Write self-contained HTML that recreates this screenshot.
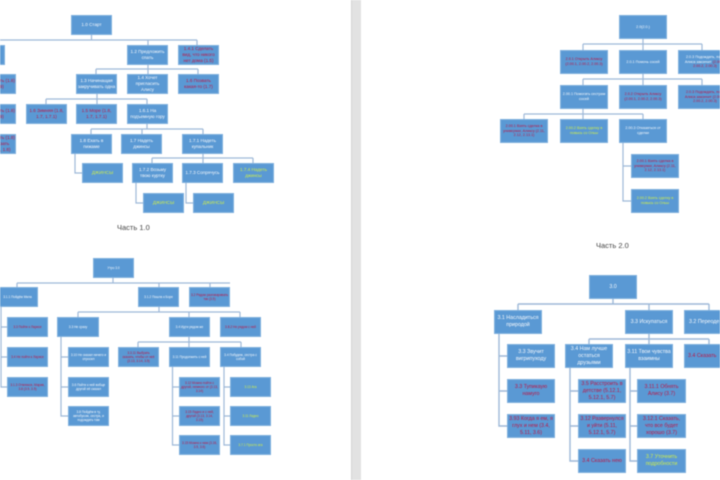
<!DOCTYPE html>
<html lang="ru"><head><meta charset="utf-8"><title>Диаграмма</title>
<style>
html,body{margin:0;padding:0;background:#fff;width:720px;height:480px;overflow:hidden}
#w{position:relative;width:720px;height:480px;overflow:hidden;filter:blur(.45px);font-family:"Liberation Sans","Noto Sans CJK JP",sans-serif}
svg{position:absolute;left:0;top:0}
.b{position:absolute;box-sizing:border-box;background:#5a99d4;border:1px solid #7fb0de;color:#f6f9fd;display:flex;align-items:center;justify-content:center;text-align:center;overflow:hidden;line-height:1.25;white-space:nowrap}
.p1{font-size:4.6px;width:41px;height:20px}
.p2{font-size:3.7px;width:48px;height:24px}
.p3{font-size:3.2px;width:41px;height:20px}
.p4{font-size:5.3px;width:48px;height:24px;line-height:7px}
.r{color:#bd1544}
.y{color:#cfee4a}
.c{position:absolute;font-size:7.5px;color:#444;white-space:nowrap}
#d{position:absolute;left:351px;top:0;width:10px;height:480px;background:#e2e2e2;border-left:1px solid #d4d4d4;box-sizing:border-box}
</style></head><body><div id="w">
<div id="d"></div>
<svg width="720" height="480" fill="none" stroke="#9db8d8" stroke-width="1.2">
<path d="M91.5 35V40M0 40H197M148 40V45M197 40V45M148 64V69M96 69H198M96 69V74M148 69V74M198 69V74M97 94V99M46 99H147M46 99V104M97 99V104M147 99V104M147 124V129M91 129H203M91 129V134M142 129V134M203 129V134M75 153V173H82M203 153V158M152 158H253M152 158V163M203 158V163M253 158V163M136 183V203H143M186 183V203H193"/>
<path d="M643 39V44M583 44H702M583 44V50M643 44V50M702 44V50M643 74V79M583 79H702M583 79V85M643 79V85M702 79V85M583 108V114M524 114H643M524 114V119M583 114V119M643 114V119M623 143V201H631M623 166H631"/>
<path d="M113 278V283M17 283H230M17 283V287M159 283V287M210 283V287M159 307V312M78 312H240M78 312V317M189 312V317M240 312V317M189 337V342M138 342H241M138 342V347M189 342V347M241 342V347M61 337V416H68M61 357H68M61 387H68M1 307V387H7M1 327H7M1 357H7M172.5 367V445H179M172.5 387H179M172.5 416H179M224 367V445H230M224 387H230M224 416H230"/>
<path d="M613 299V304M518 304H709M518 304V310M649 304V310M709 304V310M649 334V339M589 339H709M589 339V344M649 339V344M709 339V344M499 334V426H507M499 356H507M499 391H507M570 368V461H578M570 391H578M570 426H578M630 368V461H637M630 391H637M630 426H637" stroke-width="1.4"/>
</svg>

<div class="b p1" style="left:71px;top:15px">1.0 Старт</div>
<div class="b p1" style="left:-36px;top:45px"></div>
<div class="b p1" style="left:127px;top:45px">1.2 Предложить<br>спать</div>
<div class="b p1 r" style="left:178px;top:45px">1.4.1 Сделать<br>вид, что никого<br>нет дома (1.5)</div>
<div class="b p1 r" style="left:-25px;top:74px;justify-content:flex-end">сказать (1.8)<br>(1.9)&nbsp;&nbsp;&nbsp;&nbsp;</div>
<div class="b p1" style="left:76px;top:74px">1.3 Начинащая<br>закручивать одна</div>
<div class="b p1" style="left:127px;top:74px">1.4 Хочет<br>пригласить<br>Алису</div>
<div class="b p1 r" style="left:178px;top:74px">1.6 Позвать<br>какая-то (1.7)</div>
<div class="b p1 r" style="left:-25px;top:104px;justify-content:flex-end">сказать (1.8)<br>(1.9)&nbsp;&nbsp;&nbsp;&nbsp;</div>
<div class="b p1 r" style="left:26px;top:104px">1.6 Зимняя (1.8,<br>1.7, 1.7.1)</div>
<div class="b p1 r" style="left:76px;top:104px">1.5 Море (1.8,<br>1.7, 1.7.1)</div>
<div class="b p1" style="left:127px;top:104px">1.6.1 На<br>подъемную гору</div>
<div class="b p1 r" style="left:-25px;top:134px;justify-content:flex-end">заявить (1.8)<br>сказать<br>(1.7, 1.8)</div>
<div class="b p1" style="left:71px;top:134px">1.8 Ехать в<br>пижаме</div>
<div class="b p1" style="left:121px;top:134px">1.7 Надеть<br>джинсы</div>
<div class="b p1" style="left:182px;top:134px">1.7.1 Надеть<br>купальник</div>
<div class="b p1 y" style="left:82px;top:163px">ДЖИНСЫ</div>
<div class="b p1" style="left:132px;top:163px">1.7.2 Возьму<br>твою куртку</div>
<div class="b p1" style="left:182px;top:163px">1.7.3 Сопрячусь</div>
<div class="b p1 y" style="left:233px;top:163px">1.7.4 Надеть<br>джинсы</div>
<div class="b p1 y" style="left:143px;top:193px">ДЖИНСЫ</div>
<div class="b p1 y" style="left:193px;top:193px">ДЖИНСЫ</div>
<div class="c" style="left:117px;top:222.5px">Часть 1.0</div>

<div class="b p2" style="left:619px;top:15px">2.0(2.0.)</div>
<div class="b p2 r" style="left:560px;top:50px">2.0.1 Открыть Аликсу<br>(2.00.1, 2.00.2, 2.00.3)</div>
<div class="b p2" style="left:619px;top:50px">2.0.1 Помочь сосей</div>
<div class="b p2" style="left:678px;top:50px;width:54px"><span>2.0.3 Подождать, пока<br>Алиса закончит <span class="r">(2.00.1,<br>2.00.2, 2.00.3)</span></span></div>
<div class="b p2" style="left:560px;top:85px">2.00.1 Помогать сестрам<br>сосей</div>
<div class="b p2 r" style="left:619px;top:85px">2.0.2 Открыть Аликсу<br>(2.00.1, 2.00.2, 2.00.3)</div>
<div class="b p2 r" style="left:678px;top:85px;width:54px">2.0.3 Подождать, пока<br>Алиса закончит (2.00.1,<br>2.00.2, 2.00.3)</div>
<div class="b p2 r" style="left:500px;top:119px">2.00.1 Взять сделка в<br>универмаг, Аликсу (2.11,<br>2.12, 2.13.1)</div>
<div class="b p2 y" style="left:560px;top:119px">2.00.2 Взять сделку в<br>повысь со Ольы</div>
<div class="b p2" style="left:619px;top:119px">2.00.3 Отказаться от<br>сделки</div>
<div class="b p2 r" style="left:631px;top:154px">2.00.1 Взять сделка в<br>универмаг, Аликсу (2.11,<br>2.12, 2.13.1)</div>
<div class="b p2 y" style="left:631px;top:189px">2.00.2 Взять сделку в<br>повысь со Ольы</div>
<div class="c" style="left:596px;top:240.5px">Часть 2.0</div>

<div class="b p3" style="left:93px;top:258px">Утро 3.0</div>
<div class="b p3" style="left:-3px;top:287px">3.1.1 Пойдём Мила</div>
<div class="b p3" style="left:138px;top:287px">3.1.2 Пошла к Боре</div>
<div class="b p3 r" style="left:189px;top:287px">3.2 Рядом разговаривать<br>так (3.5)</div>
<div class="b p3 r" style="left:7px;top:317px">3.3 Пойти к Ларисе</div>
<div class="b p3" style="left:57px;top:317px;width:42px">3.3 Не сразу</div>
<div class="b p3" style="left:169px;top:317px">3.4 Идти рядом же</div>
<div class="b p3 r" style="left:220px;top:317px">3.8.2 Не рядом с ней</div>
<div class="b p3 r" style="left:7px;top:347px">3.4 Не пойти к Ларисе</div>
<div class="b p3" style="left:68px;top:347px">3.10 Не сказал ничего и<br>спросил</div>
<div class="b p3 r" style="left:118px;top:347px">3.3.11 Выбрать<br>сказать, чтобы от неё<br>(3.13, 3.14, 3.5)</div>
<div class="b p3" style="left:169px;top:347px">3.11 Продолжить с ней</div>
<div class="b p3" style="left:220px;top:347px">3.4 Побудем, сестра с<br>собой</div>
<div class="b p3 r" style="left:7px;top:377px">3.1.3 Отвлекся, Мария,<br>3.8 (3.9, 3.5)</div>
<div class="b p3" style="left:68px;top:377px">3.6 Пойти к ней вобще<br>другой её сказал</div>
<div class="b p3 r" style="left:179px;top:377px">3.12 Можно пойти с<br>другой, немного от (3.13,<br>3.14)</div>
<div class="b p3 y" style="left:230px;top:377px">3.13 Ага</div>
<div class="b p3" style="left:68px;top:406px">3.8 Пойдём в ту,<br>автобусом, сестра, и<br>подождать там</div>
<div class="b p3 r" style="left:179px;top:406px">3.15 Ладно и с ней,<br>другой (3.13, 3.14,<br>3.15)</div>
<div class="b p3 y" style="left:230px;top:406px">3.11 Ладно</div>
<div class="b p3 r" style="left:179px;top:435px">3.15 Можно к нам (3.16,<br>3.5, 3.6)</div>
<div class="b p3 y" style="left:230px;top:435px">3.7.1 Просто ага</div>

<div class="b p4" style="left:589px;top:275px">3.0</div>
<div class="b p4" style="left:494px;top:310px">3.1 Насладиться<br>природой</div>
<div class="b p4" style="left:625px;top:310px">3.3 Искупаться</div>
<div class="b p4" style="left:684px;top:310px;justify-content:flex-start;padding-left:4px">3.2 Переоде</div>
<div class="b p4" style="left:507px;top:344px">3.3 Звучит<br>вигрипуходу</div>
<div class="b p4" style="left:565px;top:344px">3.4 Нам лучше<br>остаться<br>друзьями</div>
<div class="b p4" style="left:625px;top:344px">3.11 Твои чувства<br>взаимны</div>
<div class="b p4 r" style="left:684px;top:344px;justify-content:flex-start;padding-left:3px">3.4 Сказать</div>
<div class="b p4 r" style="left:507px;top:379px">3.3 Тупикаую<br>намуго</div>
<div class="b p4 r" style="left:578px;top:379px">3.5 Расстроить в<br>детстве (5.12.1,<br>5.12.1, 5.7)</div>
<div class="b p4 r" style="left:637px;top:379px;width:49px">3.11.1 Обнять<br>Алису (3.7)</div>
<div class="b p4 r" style="left:507px;top:414px">3.93 Когда я ем, я<br>глух и нем (3.4,<br>5.11, 3.6)</div>
<div class="b p4 r" style="left:578px;top:414px">3.12 Развернулся<br>и уйти (5.11,<br>5.12.1, 5.7)</div>
<div class="b p4 r" style="left:637px;top:414px;width:49px">3.12.1 Сказать,<br>что все будет<br>хорошо (3.7)</div>
<div class="b p4 r" style="left:578px;top:449px">3.4 Сказать нею</div>
<div class="b p4 y" style="left:637px;top:449px;width:49px">3.7 Уточнить<br>подробности</div>
</div></body></html>
